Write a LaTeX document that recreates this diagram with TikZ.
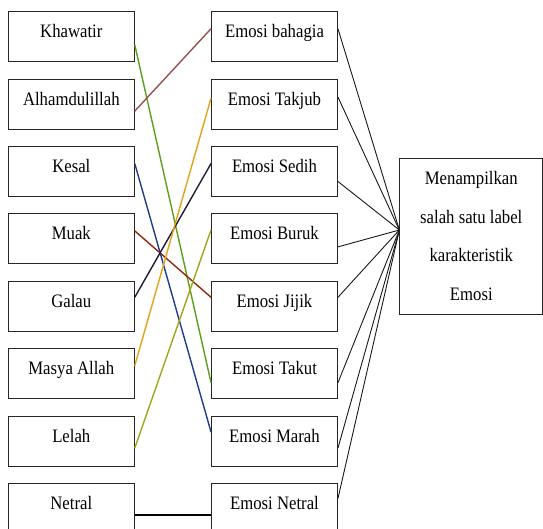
\documentclass[tikz,border=0pt]{standalone}
\usepackage{fontspec}
\setmainfont{Liberation Serif}[FakeStretch=0.88]

\definecolor{coklat}{HTML}{9C4F4F}
\definecolor{hijau}{HTML}{5E9E1E}
\definecolor{biru}{HTML}{203C8C}
\definecolor{merah}{HTML}{8E2A0A}
\definecolor{ungu}{HTML}{1F1A33}
\definecolor{oranye}{HTML}{E3A21A}
\definecolor{zaitun}{HTML}{A1A51A}

\tikzset{
    kotak/.style = {draw = black!85, line width = 0.9pt, minimum width = 126pt, minimum height = 50pt,
        inner sep = 0pt, text height = 13pt, text depth = 11pt, font = \fontsize{19}{20}\selectfont},
    garis/.style = {line width = 1.4pt},
    panah/.style = {draw = black!90, line width = 0.9pt}
}

\begin{document}
\begin{tikzpicture}[x = 1pt, y = -1pt]
            \useasboundingbox (0,0) rectangle (543,529);
            % kolom kiri
            \node[kotak] (khawatir) at (71.3,36.7) {Khawatir};
            \node[kotak] (alhamdulillah) at (71.3,104.1) {Alhamdulillah};
            \node[kotak] (kesal) at (71.3,171.5) {Kesal};
            \node[kotak] (muak) at (71.3,238.9) {Muak};
            \node[kotak] (galau) at (71.3,306.3) {Galau};
            \node[kotak] (masya) at (71.3,373.7) {Masya Allah};
            \node[kotak] (lelah) at (71.3,441.1) {Lelah};
            \node[kotak] (netral) at (71.3,508.5) {Netral};
            % kolom tengah
            \node[kotak] (bahagia) at (274.5,36.7) {Emosi bahagia};
            \node[kotak] (takjub) at (274.5,104.1) {Emosi Takjub};
            \node[kotak] (sedih) at (274.5,171.5) {Emosi Sedih};
            \node[kotak] (buruk) at (274.5,238.9) {Emosi Buruk};
            \node[kotak] (jijik) at (274.5,306.3) {Emosi Jijik};
            \node[kotak] (takut) at (274.5,373.7) {Emosi Takut};
            \node[kotak] (marah) at (274.5,441.1) {Emosi Marah};
            \node[kotak] (enetral) at (274.5,508.5) {Emosi Netral};
            % kotak kanan
            \node[draw = black!85, line width = 0.9pt, minimum width = 143pt, minimum height = 156pt, inner sep = 0pt,
                align = center, font = \fontsize{19}{38.6}\selectfont] (label) at (471.3,236)
                {Menampilkan\\salah satu label\\karakteristik\\Emosi};
            % pasangan kata dan emosi
            \draw[garis, hijau] ([yshift = -8pt]khawatir.east) -- ([yshift = -9pt]takut.west);
            \draw[garis, coklat] ([yshift = -7pt]alhamdulillah.east) -- ([yshift = 8pt]bahagia.west);
            \draw[garis, biru] ([yshift = 8pt]kesal.east) -- ([yshift = 9pt]marah.west);
            \draw[garis, merah] ([yshift = 8pt]muak.east) -- ([yshift = 9pt]jijik.west);
            \draw[garis, ungu] ([yshift = 9pt]galau.east) -- ([yshift = 8pt]sedih.west);
            \draw[garis, oranye] ([yshift = 8pt]masya.east) -- ([yshift = 6pt]takjub.west);
            \draw[garis, zaitun] ([yshift = -7pt]lelah.east) -- ([yshift = 9pt]buruk.west);
            \draw[garis, line width = 2pt] ([yshift = -6.5pt]netral.east) -- ([yshift = -6.5pt]enetral.west);
            % semua emosi ke label
            \coordinate (titik) at ([yshift = 6pt]label.west);
            \draw[panah] ([yshift = 8pt]bahagia.east) -- (titik);
            \draw[panah] ([yshift = 7pt]takjub.east) -- (titik);
            \draw[panah] ([yshift = -10pt]sedih.east) -- (titik);
            \draw[panah] ([yshift = -8pt]buruk.east) -- (titik);
            \draw[panah] ([yshift = 9pt]jijik.east) -- (titik);
            \draw[panah] ([yshift = -9pt]takut.east) -- (titik);
            \draw[panah] ([yshift = -7pt]marah.east) -- (titik);
            \draw[panah] ([yshift = 10pt]enetral.east) -- (titik);
\end{tikzpicture}
\end{document}
